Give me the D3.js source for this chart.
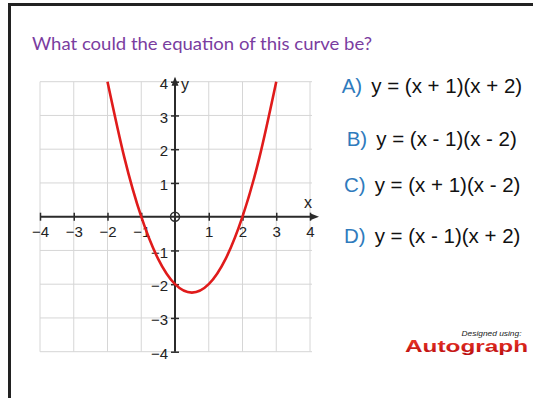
<!DOCTYPE html>
<html>
<head>
<meta charset="utf-8">
<script src="https://cdn.jsdelivr.net/npm/d3@7"></script>
<style>
  html, body { margin: 0; padding: 0; background: #fff; }
  svg { display: block; }
</style>
</head>
<body>
<svg width="533" height="398"></svg>
<script>
const title = "What could the equation of this curve be?";

const optionLetters = ["A)", "B)", "C)", "D)"];
const optionEquations = [
  "y = (x + 1)(x + 2)",
  "y = (x - 1)(x - 2)",
  "y = (x + 1)(x - 2)",
  "y = (x - 1)(x + 2)"
];

const xTicks = [-4, -3, -2, -1, 1, 2, 3, 4];
const yTicks = [-4, -3, -2, -1, 1, 2, 3, 4];
const gridValues = [-4, -3, -2, -1, 0, 1, 2, 3, 4];

// points
const curveX = [-2, -1.5, -1, -0.5, 0, 0.5, 1, 1.5, 2, 2.5, 3];
const curveY = [4, 1.75, 0, -1.25, -2, -2.25, -2, -1.25, 0, 1.75, 4];

const svg = d3.select("svg");
const width = 533;
const height = 398;

const x = d3.scaleLinear().domain([-4, 4]).range([40, 310]);
const y = d3.scaleLinear().domain([-4, 4]).range([351.7, 81.7]);

// frame
svg.append("line")
  .attr("x1", 9.5).attr("x2", 9.5).attr("y1", 3).attr("y2", height)
  .attr("stroke", "#222").attr("stroke-width", 3);
svg.append("line")
  .attr("x1", 8).attr("x2", width).attr("y1", 4.5).attr("y2", 4.5)
  .attr("stroke", "#222").attr("stroke-width", 3);

svg.append("text")
  .attr("x", 32).attr("y", 50)
  .attr("font-family", "Lato, 'Open Sans', sans-serif")
  .attr("font-size", 17)
  .attr("textLength", 340)
  .attr("lengthAdjust", "spacingAndGlyphs")
  .attr("fill", "#7a3d9f")
  .text(title);

// grid
const grid = svg.append("g").attr("stroke", "#d6d6d6").attr("stroke-width", 1);
grid.selectAll(".vx").data(gridValues).enter().append("line")
  .attr("x1", d => x(d)).attr("x2", d => x(d))
  .attr("y1", y(4)).attr("y2", y(-4));
grid.selectAll(".hy").data(gridValues).enter().append("line")
  .attr("x1", x(-4)).attr("x2", x(4) + 2)
  .attr("y1", d => y(d)).attr("y2", d => y(d));

const axisColor = "#2b2b2b";
const labelFont = "'Liberation Sans', Arial, sans-serif";

// x axis
const xAxis = svg.append("g")
  .attr("transform", `translate(0,${y(0)})`)
  .call(d3.axisBottom(x).tickValues(xTicks).tickSize(4).tickPadding(6));
xAxis.select(".domain").remove();
xAxis.selectAll(".tick line").attr("y1", -4).attr("stroke", axisColor).attr("stroke-width", 1.5);
xAxis.selectAll(".tick text")
  .attr("font-family", labelFont).attr("font-size", 15).attr("fill", "#222");
xAxis.append("line")
  .attr("x1", x(-4)).attr("x2", x(4) + 3)
  .attr("stroke", axisColor).attr("stroke-width", 2);
xAxis.append("path")
  .attr("d", `M${x(4) + 9},0 L${x(4)},-3.5 L${x(4)},3.5 Z`)
  .attr("fill", axisColor);

// y axis
const yAxis = svg.append("g")
  .attr("transform", `translate(${x(0)},0)`)
  .call(d3.axisLeft(y).tickValues(yTicks).tickSize(4).tickPadding(3));
yAxis.select(".domain").remove();
yAxis.selectAll(".tick line").attr("x1", 4).attr("stroke", axisColor).attr("stroke-width", 1.5);
yAxis.selectAll(".tick text")
  .attr("font-family", labelFont).attr("font-size", 15).attr("fill", "#222")
  .attr("dy", "0.45em");
yAxis.append("line")
  .attr("y1", y(-4)).attr("y2", y(4) - 3)
  .attr("stroke", axisColor).attr("stroke-width", 2);
yAxis.append("path")
  .attr("d", `M0,${y(4) - 5} L-3.5,${y(4) + 4} L3.5,${y(4) + 4} Z`)
  .attr("fill", axisColor);

svg.append("circle")
  .attr("cx", x(0)).attr("cy", y(0)).attr("r", 4.5)
  .attr("fill", "none").attr("stroke", axisColor).attr("stroke-width", 1.5);

svg.append("text")
  .attr("x", x(0) + 6).attr("y", y(4) + 8)
  .attr("font-family", labelFont).attr("font-size", 16).attr("fill", "#222")
  .text("y");
svg.append("text")
  .attr("x", x(4) - 2).attr("y", y(0) - 9)
  .attr("text-anchor", "middle")
  .attr("font-family", labelFont).attr("font-size", 16).attr("fill", "#222")
  .text("x");

// curve
const pts = curveX.map((d, i) => [d, curveY[i]]);
svg.append("path")
  .datum(pts)
  .attr("fill", "none")
  .attr("stroke", "#e01b1b")
  .attr("stroke-width", 2.6)
  .attr("d", d3.line().x(d => x(d[0])).y(d => y(d[1])).curve(d3.curveNatural));

// options
const rowBase = [93.3, 146, 191.7, 243.3];
const rowX = [341.7, 346.7, 344, 344];
const opts = svg.selectAll(".opt")
  .data(optionLetters)
  .enter()
  .append("text")
  .attr("class", "opt")
  .attr("x", (d, i) => rowX[i])
  .attr("y", (d, i) => rowBase[i])
  .attr("font-family", labelFont)
  .attr("font-size", 20.5);
opts.append("tspan").attr("fill", "#2f7bbd").text(d => d);
opts.append("tspan").attr("fill", "#111").attr("dx", 9).text((d, i) => optionEquations[i]);

// logo
svg.append("text")
  .attr("x", 521.5).attr("y", 335.5)
  .attr("text-anchor", "end")
  .attr("font-family", labelFont)
  .attr("font-style", "italic")
  .attr("font-size", 8)
  .attr("textLength", 60)
  .attr("lengthAdjust", "spacingAndGlyphs")
  .attr("fill", "#222")
  .text("Designed using:");

const defs = svg.append("defs");
const grad = defs.append("linearGradient").attr("id", "logoGrad")
  .attr("x1", 0).attr("x2", 0).attr("y1", 0).attr("y2", 1);
grad.append("stop").attr("offset", "0%").attr("stop-color", "#f03a2a");
grad.append("stop").attr("offset", "100%").attr("stop-color", "#b80d0d");

svg.append("text")
  .attr("x", 405).attr("y", 352)
  .attr("font-family", labelFont)
  .attr("font-weight", 900)
  .attr("font-size", 16)
  .attr("textLength", 123)
  .attr("lengthAdjust", "spacingAndGlyphs")
  .attr("fill", "url(#logoGrad)")
  .text("Autograph");
</script>
</body>
</html>
